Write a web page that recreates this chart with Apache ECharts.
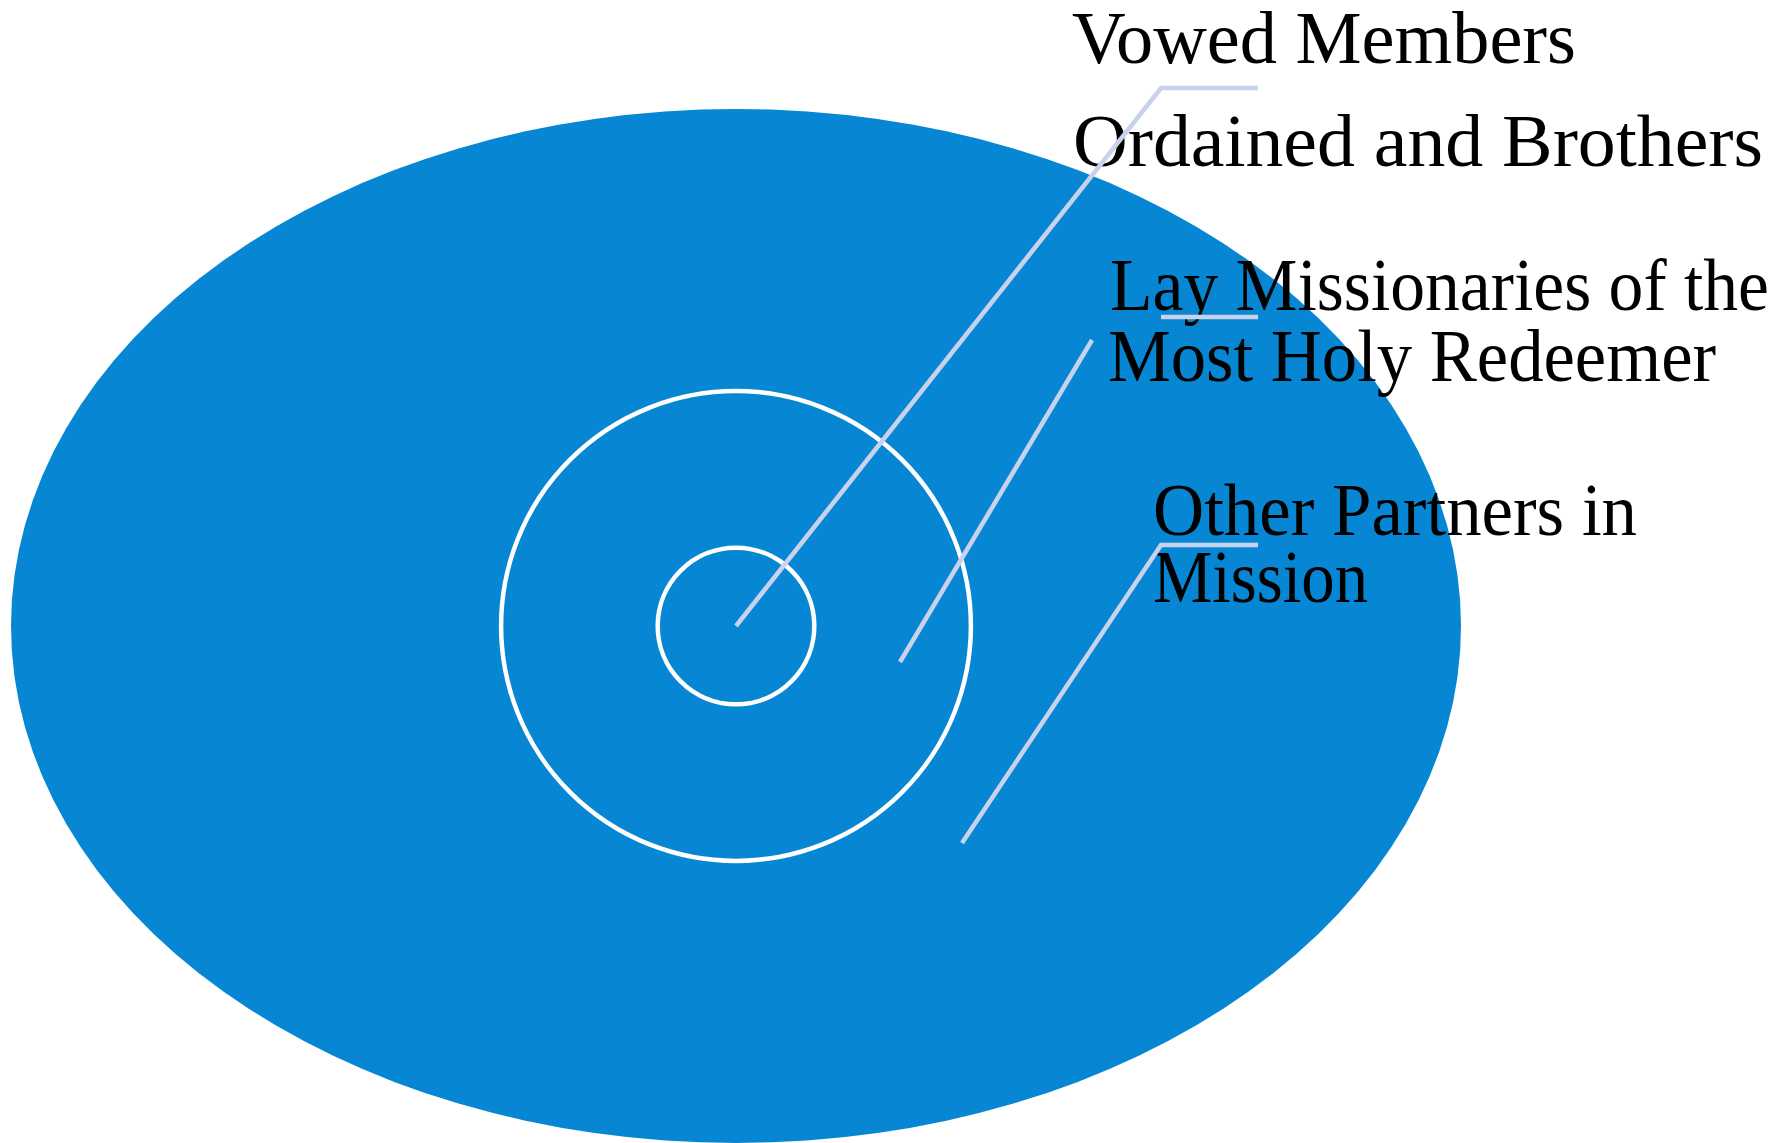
<!DOCTYPE html>
<html>
<head>
<meta charset="utf-8">
<script src="https://cdn.jsdelivr.net/npm/echarts@6/dist/echarts.min.js"></script>
<style>
html,body{margin:0;padding:0;background:#fff;}
#chart{width:1790px;height:1143px;}
</style>
</head>
<body>
<div id="chart"></div>
<script>
// ---- data ----
const ringNames = ['Other Partners in Mission', 'Lay Missionaries of the Most Holy Redeemer', 'Ordained and Brothers'];
const ringWidths = [100, 32.4, 10.8];   // relative horizontal radius
const ringHeights = [71.3, 32.4, 10.8]; // relative vertical radius
const labelTexts = ['Vowed Members', 'Ordained and Brothers', 'Lay Missionaries of the\nMost Holy Redeemer', 'Other Partners in\nMission'];

// ---- layout (pixels) ----
const W = 1790, H = 1143;
const CX = 736, CY = 626, UNIT = 7.25;
const toData = (p) => [(p[0] - CX) / UNIT, (CY - p[1]) / UNIT];
const FONT_SIZE = 73;
const FONT = FONT_SIZE + 'px "Liberation Serif", "Times New Roman", serif';
const labelLayout = [
  { x: [1072], base: [62], width: [504], lines: [] },
  { x: [1073], base: [165], width: [690], lines: [[[736, 626], [1161, 88], [1258, 88]]] },
  { x: [1110, 1108], base: [309, 380], width: [659, 608], lines: [[[900, 662], [1092, 340]], [[1161, 317], [1258, 317]]] },
  { x: [1153, 1153], base: [534, 601], width: [484, 215], lines: [[[962, 843], [1161, 545], [1258, 545]]] }
];
const measureCtx = document.createElement('canvas').getContext('2d');
measureCtx.font = FONT;

const chart = echarts.init(document.getElementById('chart'), null, { renderer: 'canvas' });
const option = {
  animation: false,
  backgroundColor: '#ffffff',
  grid: { left: 0, right: 0, top: 0, bottom: 0 },
  xAxis: { type: 'value', min: -CX / UNIT, max: (W - CX) / UNIT, show: false },
  yAxis: { type: 'value', min: -(H - CY) / UNIT, max: CY / UNIT, show: false },
  series: [
    {
      type: 'custom',
      name: 'rings',
      clip: false,
      z: 1,
      data: ringNames.map((n, i) => ({ name: n, value: [ringWidths[i], ringHeights[i]] })),
      renderItem: function (params, api) {
        const c = api.coord([0, 0]);
        const s = api.size([api.value(0), api.value(1)]);
        if (params.dataIndex === 0) {
          return {
            type: 'circle', x: c[0], y: c[1], scaleX: s[0] / s[1],
            shape: { cx: 0, cy: 0, r: s[1] },
            style: { fill: '#0786d3' }
          };
        }
        return {
          type: 'circle',
          shape: { cx: c[0], cy: c[1], r: s[0] },
          style: { fill: 'transparent', stroke: '#ffffff', lineWidth: 4.5 }
        };
      }
    },
    {
      type: 'custom',
      name: 'labels',
      clip: false,
      z: 2,
      data: labelTexts.map((t, i) => ({ name: t, value: [i] })),
      renderItem: function (params, api) {
        const i = params.dataIndex;
        const L = labelLayout[i];
        const children = [];
        labelTexts[i].split('\n').forEach((line, k) => {
          const p = api.coord(toData([L.x[k], L.base[k] - FONT_SIZE * 0.25]));
          const mw = measureCtx.measureText(line).width || L.width[k];
          children.push({
            type: 'text', z2: 1, x: p[0], y: p[1], scaleX: L.width[k] / mw,
            style: { text: line, x: 0, y: 0, font: FONT, fill: '#000000', align: 'left', verticalAlign: 'middle' }
          });
        });
        L.lines.forEach(pts => {
          children.push({
            type: 'polyline', z2: 2,
            shape: { points: pts.map(q => api.coord(toData(q))) },
            style: { stroke: '#c8d2ec', lineWidth: 4.5, fill: null }
          });
        });
        return { type: 'group', children: children };
      }
    }
  ]
};
chart.setOption(option);
</script>
</body>
</html>
